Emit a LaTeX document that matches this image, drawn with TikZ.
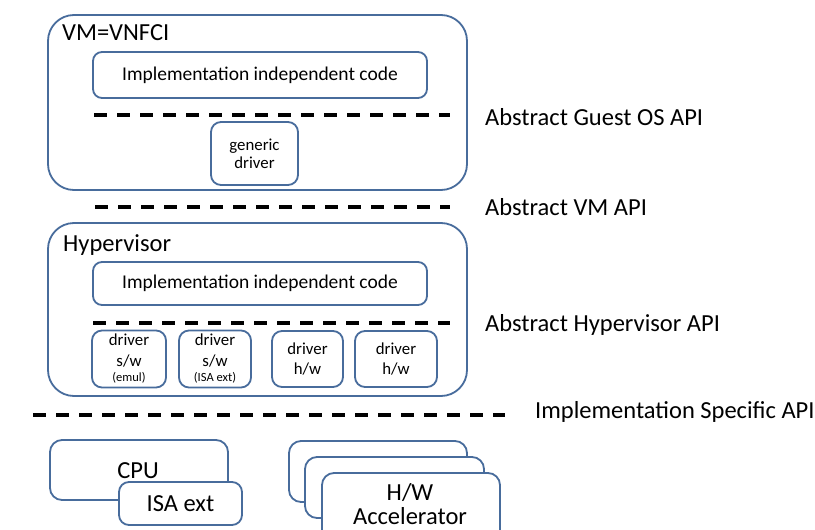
\documentclass[tikz,border=0pt]{standalone}
\usepackage{fontspec}
\setmainfont{Carlito}
\definecolor{edge}{RGB}{72,108,156}
\tikzset{
  x=1pt,y=-1pt,
  box/.style={draw=edge,line width=1.8pt,fill=white,rounded corners=#1,inner sep=0pt,align=center},
  box/.default=9pt,
  sep/.style={line width=3.2pt,dash pattern=on 13pt off 10pt,black},
  lab/.style={anchor=west,inner sep=0pt,font=\fontsize{24.5}{27}\selectfont},
  big/.style={font=\fontsize{24.5}{27}\selectfont},
  mid/.style={font=\fontsize{19.5}{22}\selectfont},
  small/.style={font=\fontsize{16.8}{19}\selectfont},
}
\begin{document}
\begin{tikzpicture}
\useasboundingbox (0,0) rectangle (815,530);
\clip (0,0) rectangle (815,530);
% VM
\node[box=26pt,minimum width=419pt,minimum height=175pt] (vm) at (257.5,102.5) {};
\node[lab] (vmt) at (62,33) {VM=VNFCI};
\node[box,minimum width=334pt,minimum height=46pt,mid] (impl1) at (260,75) {Implementation independent code};
\coordinate (d1a) at (94,115); \coordinate (d1b) at (450,115);
\draw[sep] (d1a) -- (d1b);
\node[box=10pt,minimum width=87pt,minimum height=63pt,small] (gen) at (254.5,153.5) {generic\\[-1pt]driver};
% VM API
\coordinate (d2a) at (95,207); \coordinate (d2b) at (450,207);
\draw[sep] (d2a) -- (d2b);
% Hypervisor
\node[box=26pt,minimum width=419pt,minimum height=173pt] (hyp) at (257.5,309.5) {};
\node[lab] (hypt) at (63,245) {Hypervisor};
\node[box,minimum width=334pt,minimum height=43pt,mid] (impl2) at (260,283.5) {Implementation independent code};
\coordinate (d3a) at (93,323); \coordinate (d3b) at (450,323);
\draw[sep] (d3a) -- (d3b);
\node[box=10pt,minimum width=74pt,minimum height=57pt,small] (drv1) at (129,359) {driver\\[2pt]s/w\\[-4pt]{\fontsize{12.5}{13}\selectfont (emul)}};
\node[box=10pt,minimum width=72pt,minimum height=57pt,small] (drv2) at (215,359) {driver\\[2pt]s/w\\[-4pt]{\fontsize{12.5}{13}\selectfont (ISA ext)}};
\node[box=10pt,minimum width=71pt,minimum height=56pt,small] (drv3) at (307.5,359) {driver\\[1pt]h/w};
\node[box=10pt,minimum width=82pt,minimum height=56pt,small] (drv4) at (396,359) {driver\\[1pt]h/w};
% implementation specific
\coordinate (d4a) at (33,415); \coordinate (d4b) at (505,415);
\draw[sep] (d4a) -- (d4b);
% labels
\node[lab] (l1) at (485,117) {Abstract Guest OS API};
\node[lab] (l2) at (485,207) {Abstract VM API};
\node[lab] (l3) at (485,325) {Abstract Hypervisor API};
\node[lab] (l4) at (535,412) {Implementation Specific API};
% hardware
\node[box=12pt,minimum width=178pt,minimum height=60pt] (cpu) at (139,470) {};
\node[big] (cput) at (138,471) {CPU};
\node[box=10pt,minimum width=123pt,minimum height=43pt,big] (isa) at (180.5,503.5) {ISA ext};
\node[box=12pt,minimum width=178pt,minimum height=61pt] (acc1) at (378,471.5) {};
\node[box=12pt,minimum width=179pt,minimum height=61pt] (acc2) at (394.5,487.5) {};
\node[box=12pt,minimum width=178pt,minimum height=75pt] (acc3) at (411,510.5) {};
\node[big,align=center] (acct) at (410,504) {H/W\\[-3pt]Accelerator};
\end{tikzpicture}
\end{document}
